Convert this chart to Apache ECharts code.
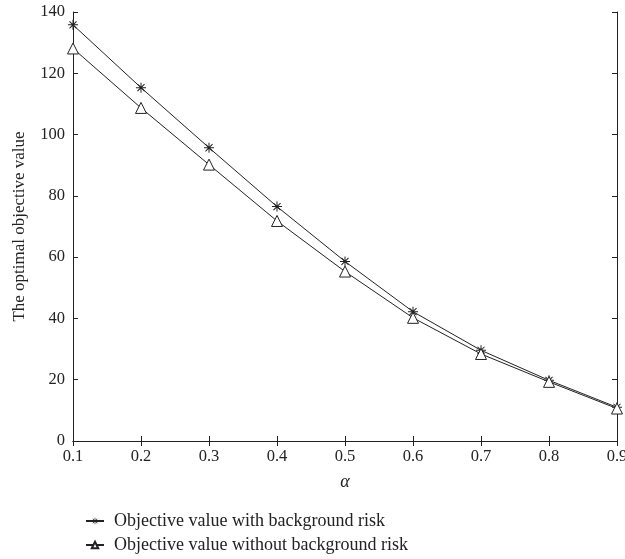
<!DOCTYPE html>
<html>
<head>
<meta charset="utf-8">
<script src="https://cdn.jsdelivr.net/npm/echarts@6/dist/echarts.min.js"></script>
<style>html,body{margin:0;padding:0;background:#fff;overflow:hidden;}#c{width:625px;height:559px;}</style>
</head>
<body>
<div id="c"></div>
<script>
var alphas = ['0.1','0.2','0.3','0.4','0.5','0.6','0.7','0.8','0.9'];
var withRisk = [135.8, 115.3, 95.7, 76.5, 58.6, 42.2, 29.6, 19.8, 11.0];
var withoutRisk = [128.1, 108.7, 90.2, 71.8, 55.3, 40.2, 28.4, 19.3, 10.6];
var yTicks = {min: 0, max: 140, interval: 20};
var seriesNames = ['Objective value with background risk', 'Objective value without background risk'];

var FONT = 'Liberation Serif';
var AX = '#222';
var star = 'path://M-1,-10L1,-10L1,10L-1,10Z M-10,-1L10,-1L10,1L-10,1Z M-6.36,-7.78L7.78,6.36L6.36,7.78L-7.78,-6.36Z M-6.36,7.78L-7.78,6.36L6.36,-7.78L7.78,-6.36Z';

var chart = echarts.init(document.getElementById('c'), null, {renderer: 'canvas'});
var tickCommon = {show: true, inside: true, length: 5, lineStyle: {color: AX, width: 1}};
chart.setOption({
  animation: false,
  backgroundColor: '#fff',
  grid: {left: 73, right: 8, top: 12, bottom: 118, containLabel: false, outerBoundsMode: 'none'},
  legend: {
    orient: 'vertical', left: 80, top: 507, itemGap: 6,
    itemWidth: 18, itemHeight: 8,
    textStyle: {fontFamily: FONT, fontSize: 18, color: '#222', padding: [0, 0, 0, 5]},
    data: seriesNames
  },
  xAxis: [{
    type: 'category', data: alphas, boundaryGap: false,
    name: 'α', nameLocation: 'middle', nameGap: 32,
    nameTextStyle: {fontFamily: FONT, fontSize: 18, fontStyle: 'italic', color: '#222'},
    axisLine: {lineStyle: {color: AX, width: 1}},
    axisTick: Object.assign({alignWithLabel: true}, tickCommon),
    axisLabel: {fontFamily: FONT, fontSize: 16.5, color: '#222', margin: 7},
    splitLine: {show: false}
  }, {
    type: 'category', data: alphas, boundaryGap: false, position: 'top',
    axisLine: {lineStyle: {color: AX, width: 1}},
    axisTick: tickCommon, axisLabel: {show: false}, splitLine: {show: false}
  }],
  yAxis: [{
    type: 'value', min: yTicks.min, max: yTicks.max, interval: yTicks.interval,
    name: 'The optimal objective value', nameLocation: 'middle', nameGap: 45, nameRotate: 90,
    nameTextStyle: {fontFamily: FONT, fontSize: 17, color: '#222'},
    axisLine: {show: true, lineStyle: {color: AX, width: 1}},
    axisTick: tickCommon,
    axisLabel: {fontFamily: FONT, fontSize: 16.5, color: '#222', margin: 8},
    splitLine: {show: false}
  }, {
    type: 'value', min: yTicks.min, max: yTicks.max, interval: yTicks.interval, position: 'right',
    axisLine: {show: true, lineStyle: {color: AX, width: 1}},
    axisTick: tickCommon, axisLabel: {show: false}, splitLine: {show: false}
  }],
  series: [{
    name: seriesNames[0], type: 'line', data: withRisk,
    symbol: star, symbolSize: 10, symbolKeepAspect: true, showSymbol: true,
    lineStyle: {color: '#222', width: 1},
    itemStyle: {color: '#222'}
  }, {
    name: seriesNames[1], type: 'line', data: withoutRisk,
    symbol: 'triangle', symbolSize: 11,
    lineStyle: {color: '#222', width: 1},
    itemStyle: {color: '#fff', borderColor: '#222', borderWidth: 1}
  }]
});
</script>
</body>
</html>
